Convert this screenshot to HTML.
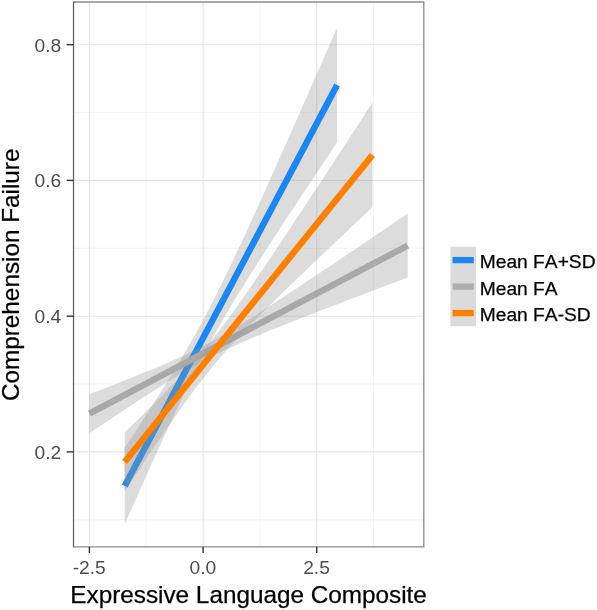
<!DOCTYPE html>
<html lang="en"><head><meta charset="utf-8"><title>Comprehension Failure by Expressive Language Composite</title>
<style>html,body{margin:0;padding:0;background:#fff}svg{display:block}text{font-kerning:none;font-family:"Liberation Sans",sans-serif}</style></head><body>
<svg width="597" height="610" viewBox="0 0 597 610">
<rect width="597" height="610" fill="#fff"/>
<g stroke="#f0f0f0" stroke-width="0.8"><line x1="146.2" x2="146.2" y1="2.0" y2="546.8"/><line x1="259.9" x2="259.9" y1="2.0" y2="546.8"/><line x1="373.5" x2="373.5" y1="2.0" y2="546.8"/><line x1="73.5" x2="423.8" y1="519.8" y2="519.8"/><line x1="73.5" x2="423.8" y1="384.0" y2="384.0"/><line x1="73.5" x2="423.8" y1="248.3" y2="248.3"/><line x1="73.5" x2="423.8" y1="112.6" y2="112.6"/></g>
<g stroke="#e4e4e4" stroke-width="1.1"><line x1="89.4" x2="89.4" y1="2.0" y2="546.8"/><line x1="203.1" x2="203.1" y1="2.0" y2="546.8"/><line x1="316.7" x2="316.7" y1="2.0" y2="546.8"/><line x1="73.5" x2="423.8" y1="451.9" y2="451.9"/><line x1="73.5" x2="423.8" y1="316.2" y2="316.2"/><line x1="73.5" x2="423.8" y1="180.4" y2="180.4"/><line x1="73.5" x2="423.8" y1="44.7" y2="44.7"/></g>
<path d="M124.7 447.6 L129.1 440.9 L133.6 434.2 L138.0 427.4 L142.4 420.6 L146.8 413.7 L151.2 406.8 L155.7 399.9 L160.1 392.9 L164.5 385.9 L169.0 378.8 L173.4 371.6 L177.8 364.3 L182.2 356.9 L186.7 349.4 L191.1 341.7 L195.5 333.9 L199.9 325.9 L204.4 317.7 L208.8 309.3 L213.2 300.8 L217.6 292.0 L222.1 283.1 L226.5 274.0 L230.9 264.8 L235.3 255.5 L239.8 246.1 L244.2 236.5 L248.6 226.9 L253.0 217.2 L257.5 207.5 L261.9 197.7 L266.3 187.9 L270.7 178.0 L275.2 168.1 L279.6 158.2 L284.0 148.3 L288.4 138.3 L292.9 128.3 L297.3 118.3 L301.7 108.3 L306.1 98.2 L310.6 88.2 L315.0 78.1 L319.4 68.1 L323.8 58.0 L328.3 47.9 L332.7 37.8 L337.1 27.7 L337.1 142.5 L332.7 149.1 L328.3 155.7 L323.8 162.3 L319.4 168.9 L315.0 175.6 L310.6 182.2 L306.1 188.9 L301.7 195.5 L297.3 202.2 L292.9 208.9 L288.4 215.6 L284.0 222.3 L279.6 229.1 L275.2 235.9 L270.7 242.7 L266.3 249.5 L261.9 256.4 L257.5 263.3 L253.0 270.3 L248.6 277.3 L244.2 284.4 L239.8 291.5 L235.3 298.8 L230.9 306.2 L226.5 313.7 L222.1 321.3 L217.6 329.1 L213.2 337.0 L208.8 345.2 L204.4 353.5 L199.9 362.0 L195.5 370.7 L191.1 379.6 L186.7 388.6 L182.2 397.8 L177.8 407.1 L173.4 416.5 L169.0 426.0 L164.5 435.6 L160.1 445.3 L155.7 455.0 L151.2 464.8 L146.8 474.6 L142.4 484.4 L138.0 494.3 L133.6 504.2 L129.1 514.2 L124.7 524.2Z" fill="#999999" fill-opacity="0.34"/>
<line x1="124.7" y1="485.9" x2="337.1" y2="85.1" stroke="#1c86ee" stroke-width="6.4"/>
<path d="M89.4 394.3 L96.0 391.7 L102.7 389.1 L109.3 386.5 L115.9 383.9 L122.6 381.3 L129.2 378.7 L135.8 376.0 L142.4 373.3 L149.1 370.6 L155.7 367.9 L162.3 365.1 L169.0 362.2 L175.6 359.3 L182.2 356.3 L188.9 353.1 L195.5 349.9 L202.1 346.6 L208.8 343.1 L215.4 339.4 L222.0 335.7 L228.7 331.8 L235.3 327.8 L241.9 323.8 L248.5 319.6 L255.2 315.4 L261.8 311.2 L268.4 306.9 L275.1 302.6 L281.7 298.2 L288.3 293.8 L295.0 289.5 L301.6 285.1 L308.2 280.6 L314.9 276.2 L321.5 271.8 L328.1 267.3 L334.8 262.9 L341.4 258.4 L348.0 254.0 L354.6 249.5 L361.3 245.0 L367.9 240.5 L374.5 236.1 L381.2 231.6 L387.8 227.1 L394.4 222.6 L401.1 218.1 L407.7 213.6 L407.7 277.4 L401.1 279.9 L394.4 282.4 L387.8 284.9 L381.2 287.5 L374.5 290.0 L367.9 292.5 L361.3 295.1 L354.6 297.6 L348.0 300.1 L341.4 302.7 L334.8 305.2 L328.1 307.8 L321.5 310.3 L314.9 312.9 L308.2 315.5 L301.6 318.1 L295.0 320.7 L288.3 323.3 L281.7 325.9 L275.1 328.6 L268.4 331.3 L261.8 334.0 L255.2 336.8 L248.5 339.6 L241.9 342.5 L235.3 345.4 L228.7 348.4 L222.0 351.6 L215.4 354.8 L208.8 358.2 L202.1 361.7 L195.5 365.4 L188.9 369.1 L182.2 373.0 L175.6 377.0 L169.0 381.1 L162.3 385.3 L155.7 389.5 L149.1 393.7 L142.4 398.0 L135.8 402.3 L129.2 406.7 L122.6 411.1 L115.9 415.4 L109.3 419.9 L102.7 424.3 L96.0 428.7 L89.4 433.1Z" fill="#999999" fill-opacity="0.34"/>
<line x1="89.4" y1="413.7" x2="407.7" y2="245.5" stroke="#a9a9a9" stroke-width="6.4"/>
<path d="M124.6 432.5 L129.8 427.5 L134.9 422.4 L140.1 417.4 L145.3 412.3 L150.4 407.2 L155.6 402.1 L160.8 396.9 L165.9 391.6 L171.1 386.3 L176.2 380.9 L181.4 375.3 L186.6 369.7 L191.7 364.0 L196.9 358.1 L202.1 352.0 L207.2 345.8 L212.4 339.3 L217.6 332.7 L222.7 326.0 L227.9 319.0 L233.1 311.9 L238.2 304.7 L243.4 297.4 L248.6 290.0 L253.7 282.5 L258.9 275.0 L264.0 267.4 L269.2 259.7 L274.4 252.0 L279.5 244.3 L284.7 236.5 L289.9 228.8 L295.0 221.0 L300.2 213.1 L305.4 205.3 L310.5 197.5 L315.7 189.6 L320.9 181.7 L326.0 173.9 L331.2 166.0 L336.3 158.1 L341.5 150.2 L346.7 142.3 L351.8 134.3 L357.0 126.4 L362.2 118.5 L367.3 110.6 L372.5 102.7 L372.5 207.1 L367.3 212.0 L362.2 216.9 L357.0 221.7 L351.8 226.6 L346.7 231.5 L341.5 236.4 L336.3 241.3 L331.2 246.2 L326.0 251.1 L320.9 256.0 L315.7 260.9 L310.5 265.8 L305.4 270.8 L300.2 275.7 L295.0 280.7 L289.9 285.7 L284.7 290.7 L279.5 295.8 L274.4 300.8 L269.2 305.9 L264.0 311.1 L258.9 316.3 L253.7 321.5 L248.6 326.8 L243.4 332.2 L238.2 337.7 L233.1 343.2 L227.9 348.9 L222.7 354.8 L217.6 360.8 L212.4 367.0 L207.2 373.4 L202.1 379.9 L196.9 386.6 L191.7 393.5 L186.6 400.6 L181.4 407.7 L176.2 415.0 L171.1 422.4 L165.9 429.9 L160.8 437.4 L155.6 445.0 L150.4 452.6 L145.3 460.3 L140.1 468.0 L134.9 475.8 L129.8 483.5 L124.6 491.3Z" fill="#999999" fill-opacity="0.34"/>
<line x1="124.6" y1="461.9" x2="372.5" y2="154.9" stroke="#ff7f00" stroke-width="6.4"/>
<path d="M73.5 2.0 H423.8 V546.8 H73.5" fill="none" stroke="#8c8c8c" stroke-width="1.3"/>
<line x1="73.5" x2="73.5" y1="1.2" y2="547.6" stroke="#5e5e5e" stroke-width="1.25"/>
<g stroke="#333" stroke-width="1.4"><line x1="89.4" x2="89.4" y1="546.8" y2="553.1"/><line x1="203.1" x2="203.1" y1="546.8" y2="553.1"/><line x1="316.7" x2="316.7" y1="546.8" y2="553.1"/><line x1="66.7" x2="73.5" y1="451.9" y2="451.9"/><line x1="66.7" x2="73.5" y1="316.2" y2="316.2"/><line x1="66.7" x2="73.5" y1="180.4" y2="180.4"/><line x1="66.7" x2="73.5" y1="44.7" y2="44.7"/></g>
<g font-size="19.2" fill="#4d4d4d"><text x="89.2" y="573.5" text-anchor="middle">-2.5</text><text x="202.9" y="573.5" text-anchor="middle">0.0</text><text x="316.5" y="573.5" text-anchor="middle">2.5</text><text x="61.2" y="458.9" text-anchor="end">0.2</text><text x="61.2" y="323.2" text-anchor="end">0.4</text><text x="61.2" y="187.4" text-anchor="end">0.6</text><text x="61.2" y="51.7" text-anchor="end">0.8</text></g>
<text x="248.6" y="602.5" font-size="24.3" text-anchor="middle" fill="#000" stroke="#000" stroke-width="0.25">Expressive Language Composite</text>
<text transform="translate(19.2 274.8) rotate(-90)" font-size="24.3" text-anchor="middle" fill="#000" stroke="#000" stroke-width="0.25">Comprehension Failure</text>
<rect x="450.45" y="246.7" width="25.7" height="79.5" fill="#dbdbdb"/>
<line x1="452.6" x2="473.8" y1="260.1" y2="260.1" stroke="#1c86ee" stroke-width="6.3"/>
<text x="479.8" y="268.0" font-size="19.2" fill="#000" stroke="#000" stroke-width="0.25">Mean FA+SD</text>
<line x1="452.6" x2="473.8" y1="286.6" y2="286.6" stroke="#adadad" stroke-width="6.3"/>
<text x="479.8" y="294.5" font-size="19.2" fill="#000" stroke="#000" stroke-width="0.25">Mean FA</text>
<line x1="452.6" x2="473.8" y1="313.1" y2="313.1" stroke="#ff7f00" stroke-width="6.3"/>
<text x="479.8" y="321.0" font-size="19.2" fill="#000" stroke="#000" stroke-width="0.25">Mean FA-SD</text>
</svg></body></html>
